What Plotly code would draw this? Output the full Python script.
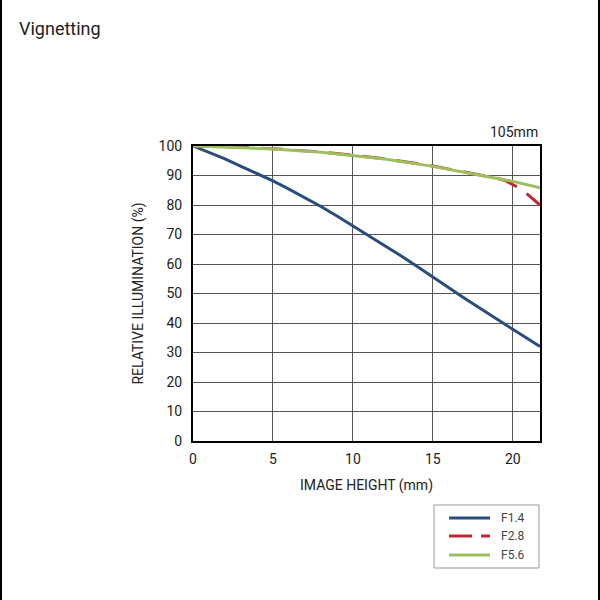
import plotly.graph_objects as go

# Data
f14_x = [0, 1, 2, 3, 4, 5, 6, 7, 8, 9, 10, 11, 12, 13, 14, 15, 16, 17, 18, 19, 20, 21, 21.7]
f14_y = [100, 97.9, 95.6, 93.1, 90.7, 88.2, 85.4, 82.5, 79.5, 76.3, 73.0, 69.7, 66.3, 62.8, 59.2, 55.5, 51.9, 48.3, 44.8, 41.3, 37.8, 34.3, 32.0]
f28_x = [0, 2, 5, 8, 10, 12, 15, 17, 18, 19, 19.5, 20.5, 21.7]
f28_y = [100, 99.8, 99.1, 98.0, 96.9, 95.7, 93.2, 91.2, 90.2, 89.1, 88.3, 85.5, 80]
f56_x = [0, 2, 5, 8, 10, 12, 15, 17, 18, 19, 20, 21.7]
f56_y = [100, 99.7, 99.0, 97.9, 96.8, 95.6, 93.1, 91.1, 90.1, 89.1, 88.0, 85.8]

names = ["F1.4", "F2.8", "F5.6"]
colors = ["#2a4d80", "#c1272d", "#9ebf5e"]
dashes = ["solid", "22px,12px", "solid"]
xs_all = [f14_x, f28_x, f56_x]
ys_all = [f14_y, f28_y, f56_y]

fig = go.Figure()
for name, xs, ys, col, dash in zip(names, xs_all, ys_all, colors, dashes):
    fig.add_trace(go.Scatter(x=xs, y=ys, mode="lines", name=name, showlegend=False,
                             line=dict(color=col, width=3, dash=dash)))

L, R, T, B = 193, 60, 146, 159
W = 600 - L - R
H = 600 - T - B


def px(x):
    return (x - L) / W


def py(y):
    return (T + H - y) / H


shapes = [
    dict(type="line", xref="paper", yref="paper", x0=px(1), x1=px(1),
         y0=py(0), y1=py(600), line=dict(color="black", width=2)),
    dict(type="line", xref="paper", yref="paper", x0=px(599), x1=px(599),
         y0=py(0), y1=py(600), line=dict(color="black", width=2)),
    # legend box
    dict(type="rect", xref="paper", yref="paper", x0=px(434), x1=px(539),
         y0=py(505), y1=py(568), line=dict(color="#999", width=1), fillcolor="white"),
]
annotations = [
    dict(text="Vignetting", xref="paper", yref="paper", x=px(17), y=py(28),
         xanchor="left", yanchor="middle", showarrow=False, font=dict(size=18, color="#222")),
    dict(text="105mm", xref="paper", yref="paper", x=1.0, y=py(132),
         xanchor="right", yanchor="middle", showarrow=False, font=dict(size=14)),
]
legend_y = [518, 536, 555]
for name, col, dash, ly in zip(names, colors, dashes, legend_y):
    if dash == "solid":
        shapes.append(dict(type="line", xref="paper", yref="paper", x0=px(449), x1=px(490),
                           y0=py(ly), y1=py(ly), line=dict(color=col, width=3)))
    else:
        shapes.append(dict(type="line", xref="paper", yref="paper", x0=px(449), x1=px(472),
                           y0=py(ly), y1=py(ly), line=dict(color=col, width=3)))
        shapes.append(dict(type="line", xref="paper", yref="paper", x0=px(481), x1=px(490),
                           y0=py(ly), y1=py(ly), line=dict(color=col, width=3)))
    annotations.append(dict(text=name, xref="paper", yref="paper", x=px(499), y=py(ly),
                            xanchor="left", yanchor="middle", showarrow=False,
                            font=dict(size=12, color="#444")))

fig.update_layout(
    width=600, height=600,
    margin=dict(l=L, r=R, t=T, b=B),
    paper_bgcolor="white", plot_bgcolor="white",
    font=dict(family="Roboto, Noto Sans, sans-serif", color="#222", size=14),
    showlegend=False,
    xaxis=dict(range=[0, 21.7], tickvals=[0, 5, 10, 15, 20], showgrid=True,
               gridcolor="#555", gridwidth=1, showline=True, linecolor="black",
               linewidth=2, mirror=True, zeroline=False, ticks="", ticklabelstandoff=4,
               tickfont=dict(size=14),
               title=dict(text="IMAGE HEIGHT (mm)", font=dict(size=14), standoff=14)),
    yaxis=dict(range=[0, 100], tickvals=list(range(0, 101, 10)), showgrid=True,
               gridcolor="#555", gridwidth=1, showline=True, linecolor="black",
               linewidth=2, mirror=True, zeroline=False, ticks="", ticklabelstandoff=6,
               tickfont=dict(size=14),
               title=dict(text="RELATIVE ILLUMINATION (%)", font=dict(size=14), standoff=12)),
    annotations=annotations,
    shapes=shapes,
)

fig.write_html("out.html")
